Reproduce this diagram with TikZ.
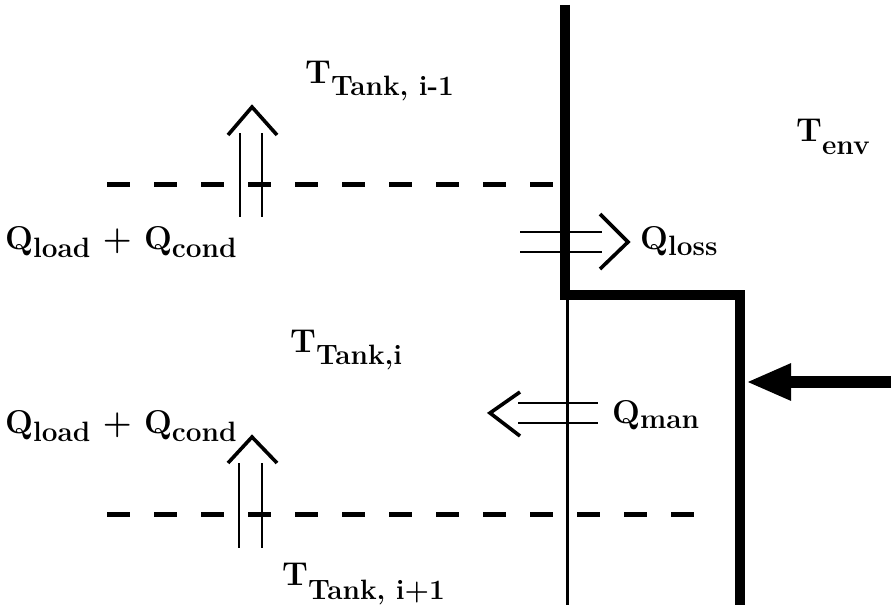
\documentclass[tikz,border=0pt]{standalone}
\usepackage{fontspec}
\usetikzlibrary{arrows.meta}
\newcommand{\lbl}[3][10pt]{#2\raisebox{-#1}{\fontsize{28}{32}\selectfont #3}}

\begin{document}
\begin{tikzpicture}[x=1pt,y=-1pt,>=Latex,
    wall/.style={line width=10.5pt,line join=miter},
    thinwall/.style={line width=3pt},
    layer/.style={line width=5pt,dash pattern=on 23pt off 24pt},
    shaft/.style={line width=2.8pt},
    chev/.style={line width=3.6pt,line join=miter},
    lbl/.style={anchor=base west,inner sep=0pt,font=\fontsize{33}{38}\selectfont\bfseries}]
  \useasboundingbox (0,0) rectangle (891,610);
  % tank wall, manifold and inner wall
  \draw[wall] (565,5) -- (565,295) -- (740,295) -- (740,605);
  \draw[thinwall] (567,295) -- (567,605);
  % layer boundaries
  \draw[layer] (107,184) -- (560,184);
  \draw[layer] (107,514) -- (712,514);
  % heat flows
  \draw[shaft] (240,133) -- (240,217);
  \draw[shaft] (262,133) -- (262,217);
  \draw[chev] (228,135) -- (252,107) -- (277,135);
  \draw[shaft] (239,463) -- (239,548);
  \draw[shaft] (262,463) -- (262,548);
  \draw[chev] (228,463) -- (252,437) -- (277,463);
  \draw[shaft] (520,232) -- (602,232);
  \draw[shaft] (520,252) -- (602,252);
  \draw[chev] (600,214) -- (628,242) -- (600,269);
  \draw[shaft] (518,403) -- (598,403);
  \draw[shaft] (518,423) -- (598,423);
  \draw[chev] (520,392) -- (490,413) -- (520,436);
  % inflow into the manifold
  \coordinate (inlet) at (891,382);
  \coordinate (mouth) at (746,382);
  \draw[line width=12pt,-{Triangle[length=45pt,width=34pt]}] (inlet) -- (mouth);
  % labels
  \node[lbl] (tup) at (305,83) {\lbl[13pt]{T}{Tank, i-1}};
  \node[lbl] (tenv) at (796,141) {\lbl[13pt]{T}{env}};
  \node[lbl] (qup) at (5,249) {\lbl[8pt]{Q}{load} + \lbl[8pt]{Q}{cond}};
  \node[lbl] (qloss) at (640,249) {\lbl[6pt]{Q}{loss}};
  \node[lbl] (tmid) at (290,352) {\lbl[12pt]{T}{Tank,i}};
  \node[lbl] (qdown) at (5,433) {\lbl[8pt]{Q}{load} + \lbl[8pt]{Q}{cond}};
  \node[lbl] (qman) at (612,423) {\lbl[5pt]{Q}{man}};
  \node[lbl] (tdown) at (282,585) {\lbl[14pt]{T}{Tank, i+1}};
\end{tikzpicture}
\end{document}
